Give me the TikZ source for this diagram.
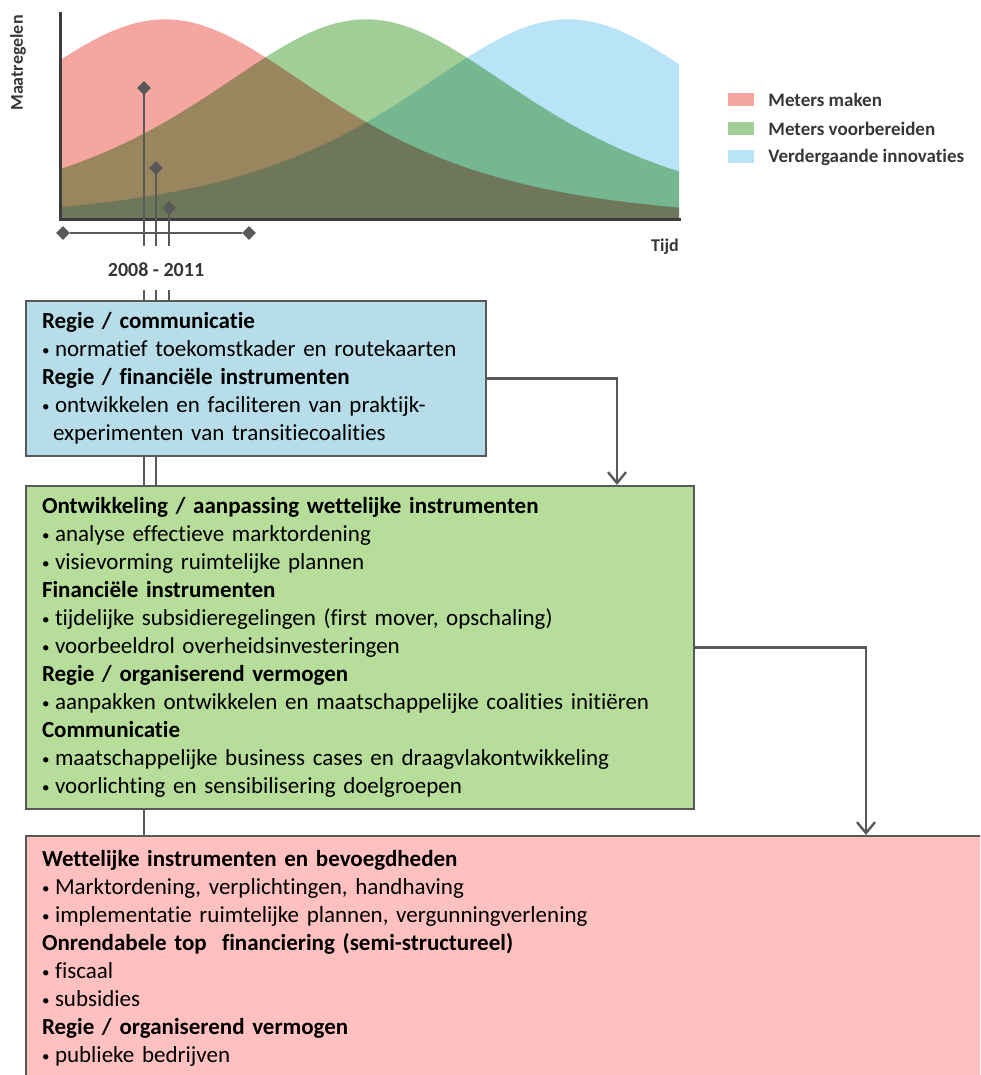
\documentclass[tikz,border=0pt]{standalone}
\usepackage{fontspec}
\setmainfont{Carlito}[Ligatures=NoCommon]
\usetikzlibrary{positioning,shapes.geometric,arrows.meta}

\definecolor{linegray}{RGB}{89,89,89}
\definecolor{axisgray}{RGB}{60,60,60}
\definecolor{labelgray}{RGB}{55,55,55}
\definecolor{curvered}{RGB}{246,166,160}
\definecolor{curvegreen}{RGB}{160,206,150}
\definecolor{curveblue}{RGB}{185,227,247}
\definecolor{boxblue}{RGB}{183,221,232}
\definecolor{boxgreen}{RGB}{183,221,154}
\definecolor{boxred}{RGB}{255,192,192}

\newcommand\bul{\makebox[13pt][l]{\raisebox{1pt}{\fontsize{15}{15}\selectfont\textbullet}}}

\begin{document}
\begin{tikzpicture}[x=1pt, y=-1pt,
    box/.style={draw=linegray, line width=2pt, anchor=north west, align=left,
        inner xsep=16pt, font=\fontsize{23}{28}\selectfont},
    conn/.style={linegray, line width=2.4pt},
    arrow/.style={conn, -{Straight Barb[length=11pt, width=18pt, line width=2.4pt]}},
    pin/.style={diamond, fill=linegray, inner sep=0pt, minimum width=14pt, minimum height=14pt},
    swatch/.style={minimum width=26pt, minimum height=13pt, inner sep=0pt},
    legend/.style={right=14pt of #1, inner sep=0pt, text=labelgray, font=\fontsize{19}{19}\selectfont\bfseries},
    axlbl/.style={text=labelgray, inner sep=0pt, font=\fontsize{18}{18}\selectfont\bfseries}]

    \useasboundingbox (0,0) rectangle (980,1075);
    \clip (0,0) rectangle (980,1075);

    % curves
    \begin{scope}[blend group=multiply]
        \fill[curvered]   (60,220) -- plot[domain=60:679, samples=100] (\x, {220.7-201.4/cosh((\x-165)/150)}) -- (679,220) -- cycle;
        \fill[curvegreen] (60,220) -- plot[domain=60:679, samples=100] (\x, {220.7-201.4/cosh((\x-366)/150)}) -- (679,220) -- cycle;
        \fill[curveblue]  (60,220) -- plot[domain=60:679, samples=100] (\x, {220.7-201.4/cosh((\x-568)/150)}) -- (679,220) -- cycle;
    \end{scope}
    \draw[axisgray, line width=3pt] (60,12) -- (60,220) -- (681,220);

    \node[axlbl, rotate=90] (ylab) at (18,63) {Maatregelen};
    \node[axlbl, anchor=east] (xlab) at (679,247) {Tijd};

    % legend
    \node[swatch, fill=curvered]   (swred)   at (741,100) {};
    \node[swatch, fill=curvegreen] (swgreen) at (741,129) {};
    \node[swatch, fill=curveblue]  (swblue)  at (741,157) {};
    \node[legend=swred]   (lgred)   {Meters maken};
    \node[legend=swgreen] (lggreen) {Meters voorbereiden};
    \node[legend=swblue]  (lgblue)  {Verdergaande innovaties};

    % time line
    \node[pin] (tlL) at (63,233) {};
    \node[pin] (tlR) at (249,233) {};
    \draw[conn] (tlL) -- (tlR);
    \node[axlbl, font=\fontsize{20}{20}\selectfont\bfseries] (years) at (156,270) {2008 - 2011};

    \node[pin] (pinA) at (144,88) {};
    \node[pin] (pinB) at (156,168) {};
    \node[pin] (pinC) at (169,208) {};
    \coordinate (pinend) at (0,246);
    \coordinate (stubtop) at (0,290);
    \draw[conn] (pinA.center) -- (pinA |- pinend);
    \draw[conn] (pinB.center) -- (pinB |- pinend);
    \draw[conn] (pinC.center) -- (pinC |- pinend);

    % boxes
    \node[box, fill=boxblue, minimum width=460pt, minimum height=155pt, text width=428pt] (blue) at (25,300) {%
        \textbf{Regie / communicatie}\\
        \bul normatief toekomstkader en routekaarten\\
        \textbf{Regie / financiële instrumenten}\\
        \bul ontwikkelen en faciliteren van praktijk-\\
        \hspace*{11pt}experimenten van transitiecoalities};
    \node[box, fill=boxgreen, minimum width=668pt, minimum height=323pt, text width=636pt] (green) at (25,485) {%
        \textbf{Ontwikkeling / aanpassing wettelijke instrumenten}\\
        \bul analyse effectieve marktordening\\
        \bul visievorming ruimtelijke plannen\\
        \textbf{Financiële instrumenten}\\
        \bul tijdelijke subsidieregelingen (first mover, opschaling)\\
        \bul voorbeeldrol overheidsinvesteringen\\
        \textbf{Regie / organiserend vermogen}\\
        \bul aanpakken ontwikkelen en maatschappelijke coalities initiëren\\
        \textbf{Communicatie}\\
        \bul maatschappelijke business cases en draagvlakontwikkeling\\
        \bul voorlichting en sensibilisering doelgroepen};
    \node[box, fill=boxred, minimum width=975pt, minimum height=245pt, text width=943pt] (red) at (25,835) {%
        \textbf{Wettelijke instrumenten en bevoegdheden}\\
        \bul Marktordening, verplichtingen, handhaving\\
        \bul implementatie ruimtelijke plannen, vergunningverlening\\
        \textbf{Onrendabele top\ \ financiering (semi-structureel)}\\
        \bul fiscaal\\
        \bul subsidies\\
        \textbf{Regie / organiserend vermogen}\\
        \bul publieke bedrijven};

    % connectors
    \draw[conn] (pinA |- stubtop) -- (pinA |- blue.north);
    \draw[conn] (pinB |- stubtop) -- (pinB |- blue.north);
    \draw[conn] (pinC |- stubtop) -- (pinC |- blue.north);
    \draw[conn] (pinA |- blue.south) -- (pinA |- green.north);
    \draw[conn] (pinB |- blue.south) -- (pinB |- green.north);
    \draw[conn] (pinA |- green.south) -- (pinA |- red.north);

    \coordinate (dropA) at (617,0);
    \coordinate (dropB) at (866,0);
    \draw[arrow] (blue.east) -| (dropA |- green.north);
    \draw[arrow] (green.east) -| (dropB |- red.north);
\end{tikzpicture}
\end{document}
